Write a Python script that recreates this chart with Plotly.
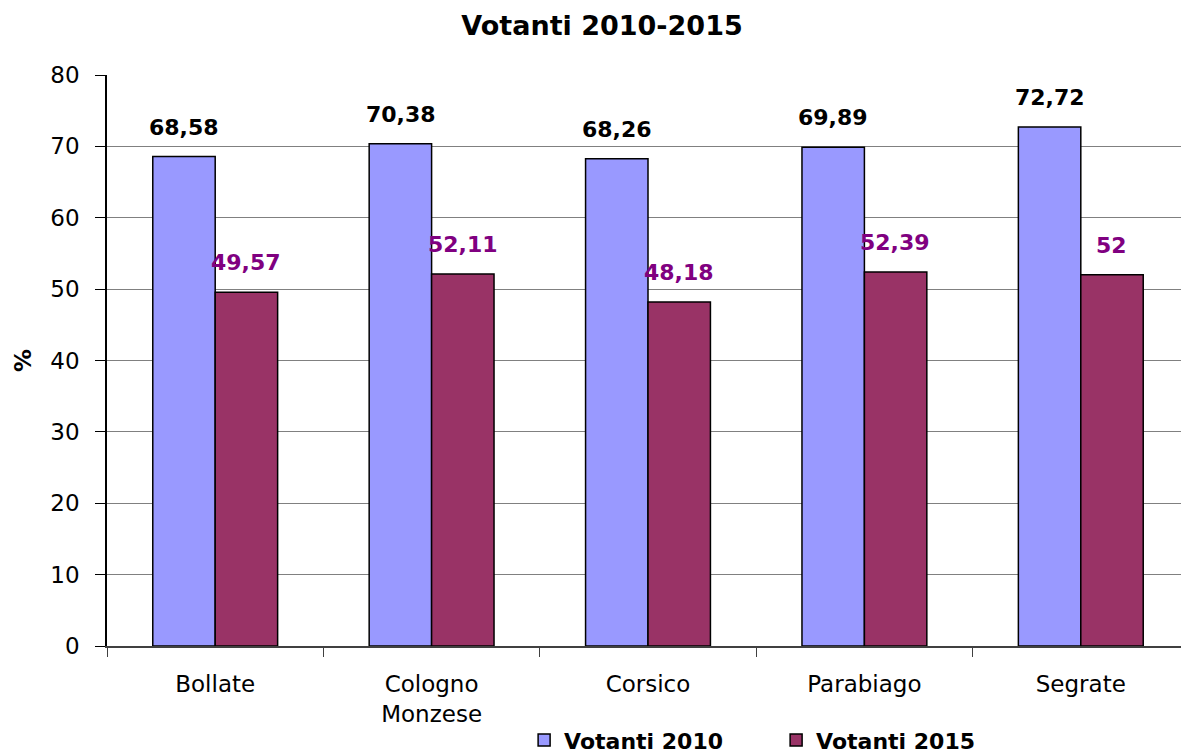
import plotly.graph_objects as go

categories = ["Bollate", "Cologno<br>Monzese", "Corsico", "Parabiago", "Segrate"]
votanti_2010 = [68.58, 70.38, 68.26, 69.89, 72.72]
votanti_2015 = [49.57, 52.11, 48.18, 52.39, 52.00]
series_names = ["Votanti 2010", "Votanti 2015"]
y_ticks = [0, 10, 20, 30, 40, 50, 60, 70, 80]

FONT = "DejaVu Sans, Arial, sans-serif"
COL_2010 = "#9999FF"
COL_2015 = "#993366"


def fmt(v):
    return f"{v:g}".replace(".", ",")


fig = go.Figure()
fig.add_trace(go.Bar(
    x=categories, y=votanti_2010, name=series_names[0],
    marker=dict(color=COL_2010, line=dict(color="black", width=1.5)),
))
fig.add_trace(go.Bar(
    x=categories, y=votanti_2015, name=series_names[1],
    marker=dict(color=COL_2015, line=dict(color="black", width=1.5)),
))

annotations = []
for c, v in zip(categories, votanti_2010):
    annotations.append(dict(
        x=c, y=v, xref="x", yref="y", text=fmt(v), showarrow=False,
        xshift=-31, yshift=15, yanchor="bottom",
        font=dict(family=FONT, size=22, color="black", weight="bold"),
    ))
for c, v in zip(categories, votanti_2015):
    annotations.append(dict(
        x=c, y=v, xref="x", yref="y", text=fmt(v), showarrow=False,
        xshift=31, yshift=15, yanchor="bottom",
        font=dict(family=FONT, size=22, color="#800080", weight="bold"),
    ))

fig.update_layout(
    width=1181, height=746,
    margin=dict(l=99, r=0, t=67, b=108, autoexpand=False),
    paper_bgcolor="white", plot_bgcolor="white",
    barmode="group", bargap=0.423, bargroupgap=0,
    font=dict(family=FONT, size=23, color="black"),
    title=dict(
        text="Votanti 2010-2015", x=0.503, xref="container", xanchor="center",
        y=0.977, yref="container", yanchor="middle",
        font=dict(family=FONT, size=27, color="black", weight="bold"),
    ),
    annotations=annotations,
    legend=dict(
        orientation="h", x=0.3855, xanchor="left", y=-0.165, yanchor="middle",
        font=dict(family=FONT, size=22, color="black", weight="bold"),
        bgcolor="rgba(0,0,0,0)", entrywidth=207, entrywidthmode="pixels",
        traceorder="normal",
    ),
    xaxis=dict(
        automargin=False,
        showline=True, linecolor="#404040", linewidth=1.5,
        ticks="outside", tickson="boundaries", ticklen=9, tickcolor="#404040",
        tickfont=dict(family=FONT, size=23, color="black"),
        ticklabelstandoff=17,
        showgrid=False,
    ),
    yaxis=dict(
        automargin=False,
        range=[0, 80], tickvals=y_ticks,
        showline=True, linecolor="black", linewidth=1.5,
        ticks="outside", ticklen=10, tickcolor="black",
        tickfont=dict(family=FONT, size=23, color="black"),
        ticklabelstandoff=11,
        showgrid=True, gridcolor="#808080", gridwidth=1.2,
        zeroline=False,
        title=dict(text="%", font=dict(family=FONT, size=23, color="black", weight="bold"), standoff=12),
    ),
)

fig.write_html("out.html")
